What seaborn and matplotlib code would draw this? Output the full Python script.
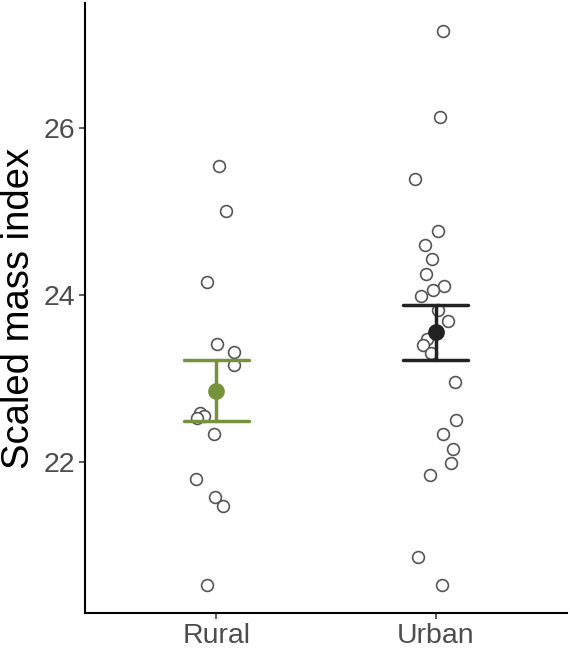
import numpy as np
import pandas as pd
import matplotlib
matplotlib.use("Agg")
import matplotlib.pyplot as plt
import seaborn as sns

categories = ["Rural", "Urban"]
rural_smi = [25.54, 25.01, 24.155, 23.42, 23.32, 23.16, 22.595, 22.555, 22.53,
             22.34, 21.80, 21.59, 21.48, 20.53]
urban_smi = [27.15, 26.125, 25.39, 24.76, 24.60, 24.43, 24.25, 24.11, 24.06, 23.99,
             23.82, 23.69, 23.475, 23.40, 23.31, 22.96, 22.51, 22.34, 22.16, 21.99,
             21.85, 20.875, 20.54]
y_ticks = [22, 24, 26]
y_label = "Scaled mass index"

df = pd.DataFrame({
    "habitat": ["Rural"] * len(rural_smi) + ["Urban"] * len(urban_smi),
    "smi": rural_smi + urban_smi,
})

sns.set_theme(style="ticks")
plt.rcParams["font.family"] = ["Liberation Sans", "DejaVu Sans"]

fig = plt.figure(figsize=(5.7, 6.48), dpi=100)
ax = fig.add_axes([85 / 570, 35 / 648, 482 / 570, 610 / 648])

np.random.seed(3)
sns.stripplot(data=df, x="habitat", y="smi", order=categories, jitter=0.1,
              size=8.5, color="white", edgecolor="#555555", linewidth=1.2,
              ax=ax, zorder=2)

palette = {"Rural": "#76923C", "Urban": "#222222"}
sns.pointplot(data=df, x="habitat", y="smi", order=categories, hue="habitat",
              hue_order=categories, palette=palette, errorbar="se", capsize=0.3,
              linestyle="none", markers="o", markersize=10,
              err_kws={"linewidth": 2.5}, legend=False, ax=ax, zorder=3)

ax.set_xlim(-0.6, 1.6)
ax.set_ylim(20.2, 27.49)
ax.set_yticks(y_ticks)
ax.set_yticklabels([str(t) for t in y_ticks])
ax.set_xlabel("")
ax.set_ylabel(y_label, fontsize=27.5, color="black", labelpad=5)
ax.tick_params(axis="both", labelsize=20.5, labelcolor="#4D4D4D", color="#333333",
               length=4, width=1.1, pad=3)
for s in ["top", "right"]:
    ax.spines[s].set_visible(False)
for s in ["left", "bottom"]:
    ax.spines[s].set_linewidth(1.5)
    ax.spines[s].set_color("black")

fig.savefig("out.png", dpi=100)
